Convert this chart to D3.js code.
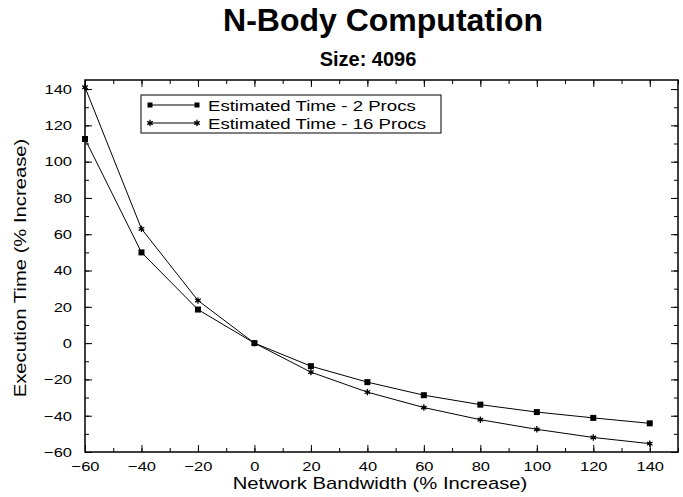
<!DOCTYPE html>
<html><head><meta charset="utf-8">
<script src="https://cdn.jsdelivr.net/npm/d3@7"></script>
<style>body{margin:0;background:#fff}svg{display:block}text{font-family:"Liberation Sans",Arial,sans-serif}</style>
</head><body><svg id="c" width="683" height="497"></svg>
<script>
const bandwidth = [-60,-40,-20,0,20,40,60,80,100,120,140];
const procs2 = [112.5,50,18.5,0,-12.7,-21.5,-28.7,-33.9,-38,-41.2,-44.2];
const procs16 = [141,63,23.5,0,-16,-27,-35.5,-42.2,-47.5,-52,-55.4];
const seriesNames = ["Estimated Time - 2 Procs","Estimated Time - 16 Procs"];
const xTicks = [-60,-40,-20,0,20,40,60,80,100,120,140];
const yTicks = [-60,-40,-20,0,20,40,60,80,100,120,140];

const svg = d3.select("#c");
const L=85,R=678,T=80,B=452;
const x = d3.scaleLinear().domain([-60,150]).range([L,R]);
const y = d3.scaleLinear().domain([-60,145]).range([B,T]);

function stretch(sel,k){
  sel.each(function(){
    const w=this.getComputedTextLength();
    d3.select(this).attr("textLength",w*k).attr("lengthAdjust","spacingAndGlyphs");
  });
}

const minorX = d3.range(-60,151,10), minorY = d3.range(-60,146,10);
svg.append("rect").attr("x",L).attr("y",T).attr("width",R-L).attr("height",B-T).attr("fill","none").attr("stroke","#000").attr("stroke-width",1.5);
svg.append("g").attr("transform",`translate(0,${B})`).call(d3.axisBottom(x).tickValues(minorX).tickSize(-4).tickFormat(""));
svg.append("g").attr("class","lab").attr("transform",`translate(0,${B})`).call(d3.axisBottom(x).tickValues(xTicks).tickSize(-7).tickPadding(9).tickFormat(d3.format("d")));
svg.append("g").attr("transform",`translate(0,${T})`).call(d3.axisTop(x).tickValues(minorX).tickSize(-4).tickFormat(""));
svg.append("g").attr("transform",`translate(0,${T})`).call(d3.axisTop(x).tickValues(xTicks).tickSize(-7).tickFormat(""));
svg.append("g").attr("transform",`translate(${L},0)`).call(d3.axisLeft(y).tickValues(minorY).tickSize(-4).tickFormat(""));
svg.append("g").attr("class","lab").attr("transform",`translate(${L},0)`).call(d3.axisLeft(y).tickValues(yTicks).tickSize(-7).tickPadding(13).tickFormat(d3.format("d")));
svg.append("g").attr("transform",`translate(${R},0)`).call(d3.axisRight(y).tickValues(minorY).tickSize(-4).tickFormat(""));
svg.append("g").attr("transform",`translate(${R},0)`).call(d3.axisRight(y).tickValues(yTicks).tickSize(-7).tickFormat(""));
svg.selectAll(".domain").remove();
svg.selectAll(".tick line").attr("stroke","#000");
svg.selectAll(".lab .tick text").attr("font-size",13.5).attr("fill","#000").attr("font-family","Liberation Sans, Arial, sans-serif").call(stretch,1.22);

const line = d3.line().x((d,i)=>x(bandwidth[i])).y(d=>y(d));
function star(sel){
  sel.each(function(){
    const s=d3.select(this);
    const r=3.2;
    for(const a of [0,60,120]){
      const rad=a*Math.PI/180;
      s.append("line").attr("x1",-r*Math.sin(rad)).attr("y1",-r*Math.cos(rad)).attr("x2",r*Math.sin(rad)).attr("y2",r*Math.cos(rad)).attr("stroke","#000").attr("stroke-width",1.3);
    }
    s.append("circle").attr("r",1.6).attr("fill","#000");
  });
}
svg.append("path").datum(procs2).attr("d",line).attr("fill","none").attr("stroke","#000").attr("stroke-width",1);
svg.append("path").datum(procs16).attr("d",line).attr("fill","none").attr("stroke","#000").attr("stroke-width",1);
svg.selectAll(".m2").data(procs2).join("rect").attr("class","m2")
  .attr("x",(d,i)=>x(bandwidth[i])-3).attr("y",d=>y(d)-3).attr("width",6).attr("height",6).attr("fill","#000");
svg.selectAll(".m16").data(procs16).join("g").attr("class","m16")
  .attr("transform",(d,i)=>`translate(${x(bandwidth[i])},${y(d)})`).call(star);

// legend
const lg = svg.append("g");
lg.append("rect").attr("x",141).attr("y",95).attr("width",300).attr("height",38).attr("fill","#fff").attr("stroke","#000").attr("stroke-width",1);
seriesNames.forEach((n,i)=>{
  const yy = 105 + i*18;
  lg.append("line").attr("x1",150).attr("x2",197).attr("y1",yy).attr("y2",yy).attr("stroke","#000");
  if(i===0){
    [150,197].forEach(xx=>lg.append("rect").attr("x",xx-2.5).attr("y",yy-2.5).attr("width",5).attr("height",5).attr("fill","#000"));
  } else {
    [150,197].forEach(xx=>lg.append("g").attr("transform",`translate(${xx},${yy})`).call(star));
  }
  lg.append("text").attr("x",208).attr("y",yy+5.5).attr("font-size",15).text(n).call(stretch,1.24);
});

svg.append("text").attr("x",383).attr("y",31).attr("text-anchor","middle").attr("font-size",32).attr("font-weight","bold").text("N-Body Computation");
svg.append("text").attr("x",368).attr("y",66).attr("text-anchor","middle").attr("font-size",20).attr("font-weight","bold").text("Size: 4096");
svg.append("text").attr("x",380).attr("y",489).attr("text-anchor","middle").attr("font-size",17).text("Network Bandwidth (% Increase)").call(stretch,1.19);
svg.append("text").attr("transform","translate(26,268) rotate(-90)").attr("text-anchor","middle").attr("font-size",17).text("Execution Time (% Increase)").call(stretch,1.19);
</script></body></html>
